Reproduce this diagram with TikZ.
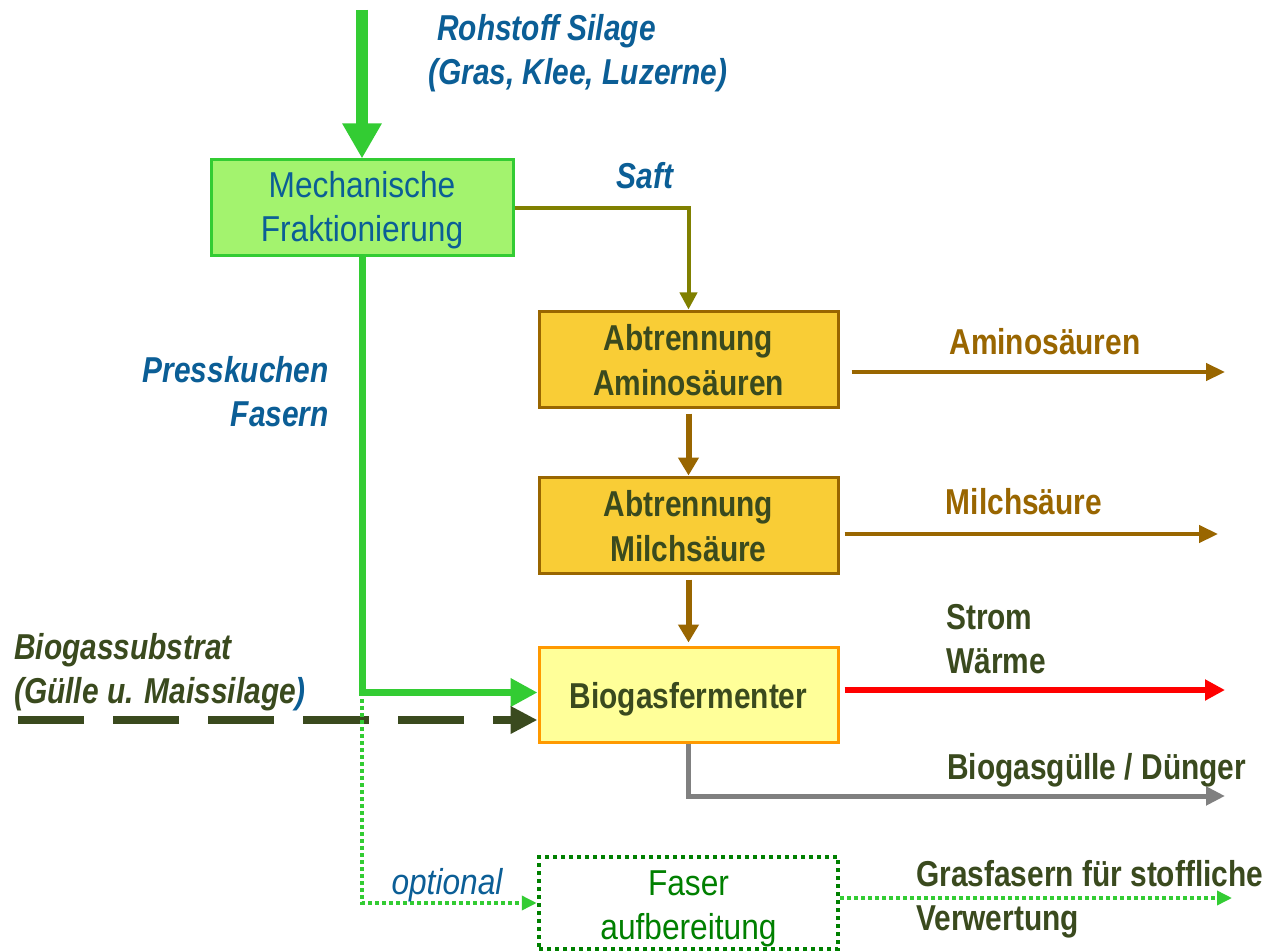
\documentclass[tikz,border=0pt]{standalone}
\usepackage{fontspec}
\setmainfont{Liberation Sans}[
  UprightFeatures={FakeStretch=0.88},
  ItalicFeatures={FakeStretch=0.88},
  BoldFeatures={FakeStretch=0.83},
  BoldItalicFeatures={FakeStretch=0.83}]
\usetikzlibrary{arrows.meta}

\definecolor{mechFill}{HTML}{A3F36E}
\definecolor{mechEdge}{HTML}{33CC33}
\definecolor{abtFill}{HTML}{F9CD36}
\definecolor{abtEdge}{HTML}{996600}
\definecolor{bioFill}{HTML}{FFFF99}
\definecolor{bioEdge}{HTML}{FF9900}
\definecolor{blueText}{HTML}{0B5E96}
\definecolor{oliveText}{HTML}{3A4A1E}
\definecolor{juice}{HTML}{808000}
\definecolor{fibreGreen}{HTML}{008000}
\definecolor{brightGreen}{HTML}{33CC33}

% box text: first baseline placed #1 above the box centre
\newcommand\boxtxt[2]{\raisebox{#1}[0pt][0pt]{\begin{tabular}[t]{@{}c@{}}#2\end{tabular}}}
% label text whose baseline is that of its first line
\newcommand\lbltxt[2]{\begin{tabular}[t]{@{}#1@{}}#2\end{tabular}}

\tikzset{
  txt/.style={font=\fontsize{36}{44}\selectfont, inner sep=0pt},
  procbox/.style={txt, draw, line width=3pt, minimum width=299pt,
    minimum height=96pt},
  mechbox/.style={procbox, fill=mechFill, draw=mechEdge, text=blueText,
    minimum width=302pt},
  abtbox/.style={procbox, fill=abtFill, draw=abtEdge, text=oliveText,
    font=\fontsize{36}{45}\selectfont\bfseries},
  biobox/.style={procbox, fill=bioFill, draw=bioEdge, text=oliveText,
    minimum height=95pt, font=\fontsize{36}{44}\selectfont\bfseries},
  faserbox/.style={procbox, fill=white, draw=fibreGreen, text=fibreGreen,
    line width=4.5pt, dash pattern=on 4pt off 4pt, minimum height=92pt},
  feedarrow/.style={draw=brightGreen, line width=12pt,
    -{Triangle[length=35pt,width=37pt]}},
  juiceline/.style={draw=juice, line width=4pt,
    -{Triangle[length=17pt,width=17pt]}},
  brownarrow/.style={draw=abtEdge, line width=6pt,
    -{Triangle[length=18pt,width=20pt]}},
  brownout/.style={draw=abtEdge, line width=4.5pt,
    -{Triangle[length=19pt,width=17pt]}},
  redout/.style={draw=red, line width=6pt,
    -{Triangle[length=20pt,width=20pt]}},
  grayout/.style={draw=gray, line width=5pt,
    -{Triangle[length=19pt,width=18pt]}},
  pressline/.style={draw=brightGreen, line width=7pt,
    -{Triangle[length=27pt,width=27pt]}},
  subline/.style={draw=oliveText, line width=8pt,
    dash pattern=on 66pt off 29pt,
    -{Triangle[length=27pt,width=26pt]}},
  optline/.style={draw=brightGreen, line width=3.5pt,
    dash pattern=on 3.5pt off 3.5pt,
    -{Triangle[length=15pt,width=14pt]}},
  bluelbl/.style={txt, text=blueText, font=\fontsize{36}{44}\selectfont\bfseries\itshape},
  olivelbl/.style={txt, text=oliveText, font=\fontsize{36}{44}\selectfont\bfseries},
}

\begin{document}
\begin{tikzpicture}[x=1pt, y=-1pt]
\useasboundingbox[fill=white] (0,0) rectangle (1275,952);

% process stages
\node[mechbox] (mech) at (362,208) {\boxtxt{10pt}{Mechanische\\Fraktionierung}};
\node[abtbox] (abt1) at (688.5,359) {\boxtxt{9pt}{Abtrennung\\Aminosäuren}};
\node[abtbox] (abt2) at (688.5,525) {\boxtxt{9pt}{Abtrennung\\Milchsäure}};
\node[biobox] (bio) at (688.5,694.5) {\boxtxt{-13.5pt}{Biogasfermenter}};
\node[faserbox] (faser) at (688.5,903) {\boxtxt{8pt}{Faser\\aufbereitung}};

% feedstock inflow
\coordinate (feed) at (362,10);
\draw[feedarrow] (feed) -- (mech.north);
\node[bluelbl, anchor=base west] (rohstoff) at (428,41)
  {\lbltxt{l}{\hspace*{9pt}Rohstoff Silage\\(Gras, Klee, Luzerne)}};

% juice branch
\draw[juiceline] (mech.east) -| (abt1.north);
\node[bluelbl, anchor=base] (saft) at (645,189) {Saft};

% separation cascade
\draw[brownarrow, shorten <=5pt] (abt1.south) -- (abt2.north);
\draw[brownarrow, shorten <=5pt, shorten >=3pt] (abt2.south) -- (bio.north);

% press cake to the fermenter
\draw[pressline] (mech.south) |- ([yshift=2pt]bio.west);
\node[bluelbl, anchor=base east] (press) at (329,382)
  {\lbltxt{r}{Presskuchen\\Fasern}};

% co-substrate
\coordinate (subin) at (18,720);
\draw[subline] (subin) -- (subin -| bio.west);
\node[txt, anchor=base west, text=oliveText,
  font=\fontsize{36}{44}\selectfont\bfseries\itshape] (substrat) at (14,659)
  {\lbltxt{l}{Biogassubstrat\\(Gülle u. Maissilage\textcolor{blueText}{)}}};

% optional fibre route
\coordinate (optfork) at (362,699);
\draw[optline] (optfork) |- (faser.west);
\node[txt, anchor=base, text=blueText, font=\fontsize{36}{44}\selectfont\itshape]
  (optional) at (447,894) {optional};

% products
\coordinate (aminoEnd) at (1225,372);
\draw[brownout] ([xshift=12pt]abt1.east |- aminoEnd) -- (aminoEnd);
\node[olivelbl, anchor=base, text=abtEdge] (aminolbl) at (1045,354) {Aminosäuren};

\coordinate (milchEnd) at (1218,534);
\draw[brownout] ([xshift=5pt]abt2.east |- milchEnd) -- (milchEnd);
\node[olivelbl, anchor=base, text=abtEdge] (milchlbl) at (1024,514) {Milchsäure};

\coordinate (energyEnd) at (1225,690);
\draw[redout] ([xshift=5pt]bio.east |- energyEnd) -- (energyEnd);
\node[olivelbl, anchor=base west] (energy) at (946,629) {\lbltxt{l}{Strom\\Wärme}};

\coordinate (digestEnd) at (1225,796);
\draw[grayout] (bio.south) |- (digestEnd);
\node[olivelbl, anchor=base west] (digest) at (947,779) {Biogasgülle / Dünger};

\coordinate (fibreEnd) at (1232,898);
\draw[optline] (faser.east |- fibreEnd) -- (fibreEnd);
\node[olivelbl, anchor=base west] (fibre) at (916,886)
  {\lbltxt{l}{Grasfasern für stoffliche\\Verwertung}};
\end{tikzpicture}
\end{document}
